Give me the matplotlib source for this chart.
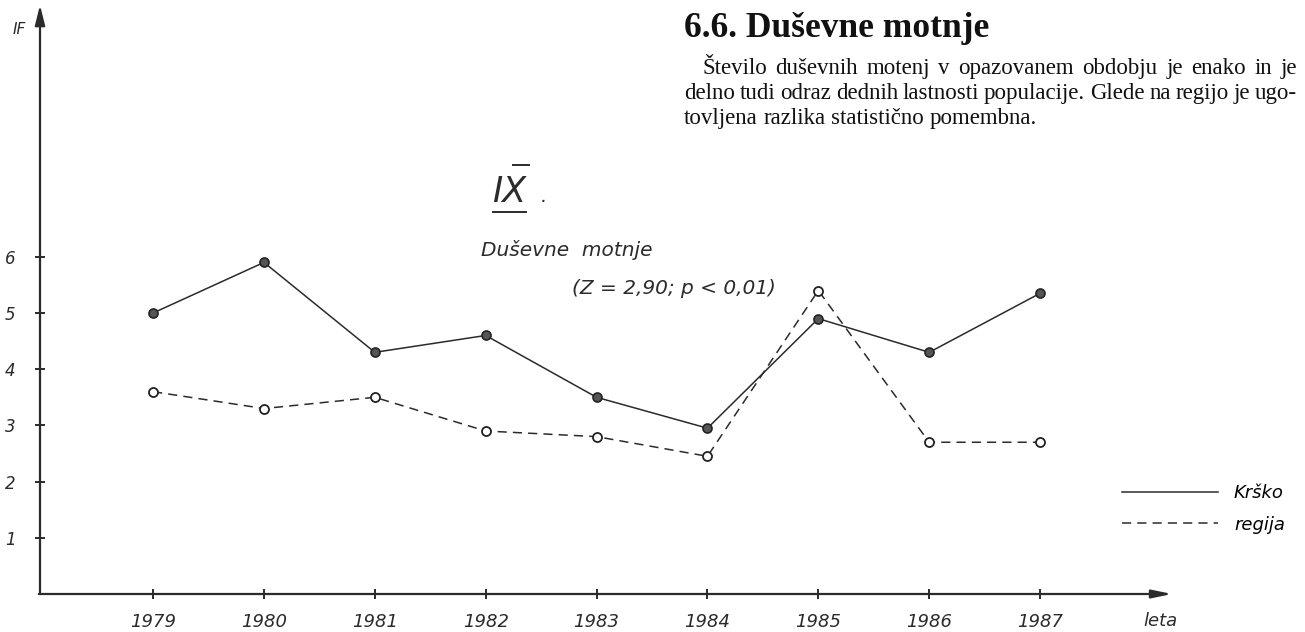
import matplotlib
matplotlib.use("Agg")
import matplotlib.pyplot as plt
from matplotlib.lines import Line2D

# --- data --------------------------------------------------------------------
YEARS = [1979, 1980, 1981, 1982, 1983, 1984, 1985, 1986, 1987]
KRSKO = [5.0, 5.9, 4.3, 4.6, 3.5, 2.95, 4.9, 4.3, 5.35]
REGIJA = [3.6, 3.3, 3.5, 2.9, 2.8, 2.45, 5.4, 2.7, 2.7]
Y_TICKS = [1, 2, 3, 4, 5, 6]

TITLE = "6.6. Duševne motnje"
BODY = [
    "Število duševnih motenj v opazovanem obdobju je enako in je",
    "delno tudi odraz dednih lastnosti populacije. Glede na regijo je ugo-",
    "tovljena razlika statistično pomembna.",
]

W, H = 1305, 632
INK = "#2b2b2b"
HAND = dict(family="DejaVu Sans", style="italic", color=INK)


def px(x, y):
    """pixel position (from top-left) -> figure fraction"""
    return x / W, 1 - y / H


fig = plt.figure(figsize=(W / 100, H / 100), dpi=100)
fig.patch.set_facecolor("white")

# axes box: y axis at x=40px, x axis at y=594px, arrows to x=1172 / y=5
ax = fig.add_axes([40 / W, (H - 594) / H, (1172 - 40) / W, (594 - 5) / H])
ax.set_xlim(1977.98, 1988.19)
ax.set_ylim(0, 10.48)
for s in ax.spines.values():
    s.set_visible(False)
ax.patch.set_alpha(0)

# axes drawn as arrows
ax.annotate("", xy=(0, 1), xytext=(0, 0), xycoords="axes fraction",
            arrowprops=dict(arrowstyle="-|>,head_length=1.2,head_width=0.3",
                            color=INK, lw=1.6, shrinkA=0, shrinkB=0))
ax.annotate("", xy=(1, 0), xytext=(-0.001, 0), xycoords="axes fraction",
            arrowprops=dict(arrowstyle="-|>,head_length=1.2,head_width=0.25",
                            color=INK, lw=1.6, shrinkA=0, shrinkB=0))

ax.set_xticks(YEARS)
ax.set_xticklabels([str(y) for y in YEARS], fontsize=13, **HAND)
ax.set_yticks(Y_TICKS)
ax.set_yticklabels([str(v) for v in Y_TICKS], fontsize=12, **HAND)
ax.tick_params(axis="x", direction="inout", length=7, width=1.4, color=INK, pad=10)
ax.tick_params(axis="y", direction="inout", length=7, width=1.4, color=INK, pad=14)

ax.plot(YEARS, KRSKO, color=INK, lw=1.1, marker="o", ms=6.5,
        mfc="#555555", mec="#222222", mew=1.2, clip_on=False)
ax.plot(YEARS, REGIJA, color=INK, lw=1.1, ls=(0, (6, 4)), marker="o", ms=6.5,
        mfc="white", mec="#222222", mew=1.3, clip_on=False)

# legend drawn like the hand-lettered key
handles = [Line2D([], [], color=INK, lw=1.1),
           Line2D([], [], color=INK, lw=1.1, ls=(0, (6, 4)))]
ax.legend(handles, ["Krško", "regija"], loc="upper left",
          bbox_to_anchor=px(1122, 484), bbox_transform=fig.transFigure,
          frameon=False, handlelength=5.3, handletextpad=0.9,
          labelspacing=0.75, borderpad=0, borderaxespad=0,
          prop=dict(family="DejaVu Sans", style="italic", size=13))

# axis captions
fig.text(*px(13, 30), "IF", fontsize=11, ha="left", va="center", **HAND)
fig.text(*px(1160, 621), "leta", fontsize=13, ha="center", va="center", **HAND)

# handwritten annotations
fig.text(*px(492, 192), "IX", fontsize=25, ha="left", va="center", **HAND)
fig.add_artist(Line2D([513 / W, 529 / W], [1 - 165 / H, 1 - 165 / H], color=INK, lw=1.4))
fig.add_artist(Line2D([493 / W, 526 / W], [1 - 212 / H, 1 - 212 / H], color=INK, lw=1.4))
fig.text(*px(541, 196), ".", fontsize=14, ha="left", va="center", **HAND)
fig.text(*px(481, 250), "Duševne  motnje", fontsize=14.5, ha="left", va="center", **HAND)
fig.text(*px(572, 289), "(Z = 2,90; p < 0,01)", fontsize=14.5, ha="left", va="center", **HAND)

# printed heading and paragraph
fig.text(*px(684, 37), TITLE, fontsize=25.5, fontweight="bold",
         family="Liberation Serif", ha="left", va="baseline", color="#111111")

renderer = fig.canvas.get_renderer()
body_kw = dict(fontsize=16.5, family="Liberation Serif", color="#111111",
               ha="left", va="baseline")
left, indent, right = 684, 702, 1297
baselines = [74, 99, 124]
for i, (line, yb) in enumerate(zip(BODY, baselines)):
    x0 = indent if i == 0 else left
    words = line.split()
    texts = [fig.text(0, 0, w, **body_kw) for w in words]
    widths = [t.get_window_extent(renderer).width for t in texts]
    if i < len(BODY) - 1:
        gap = (right - x0 - sum(widths)) / (len(words) - 1)
    else:
        gap = fig.text(0, 0, " ", **body_kw).get_window_extent(renderer).width
    x = x0
    for t, w in zip(texts, widths):
        t.set_position(px(x, yb))
        x += w + gap

fig.savefig("out.png", dpi=100, facecolor="white")
